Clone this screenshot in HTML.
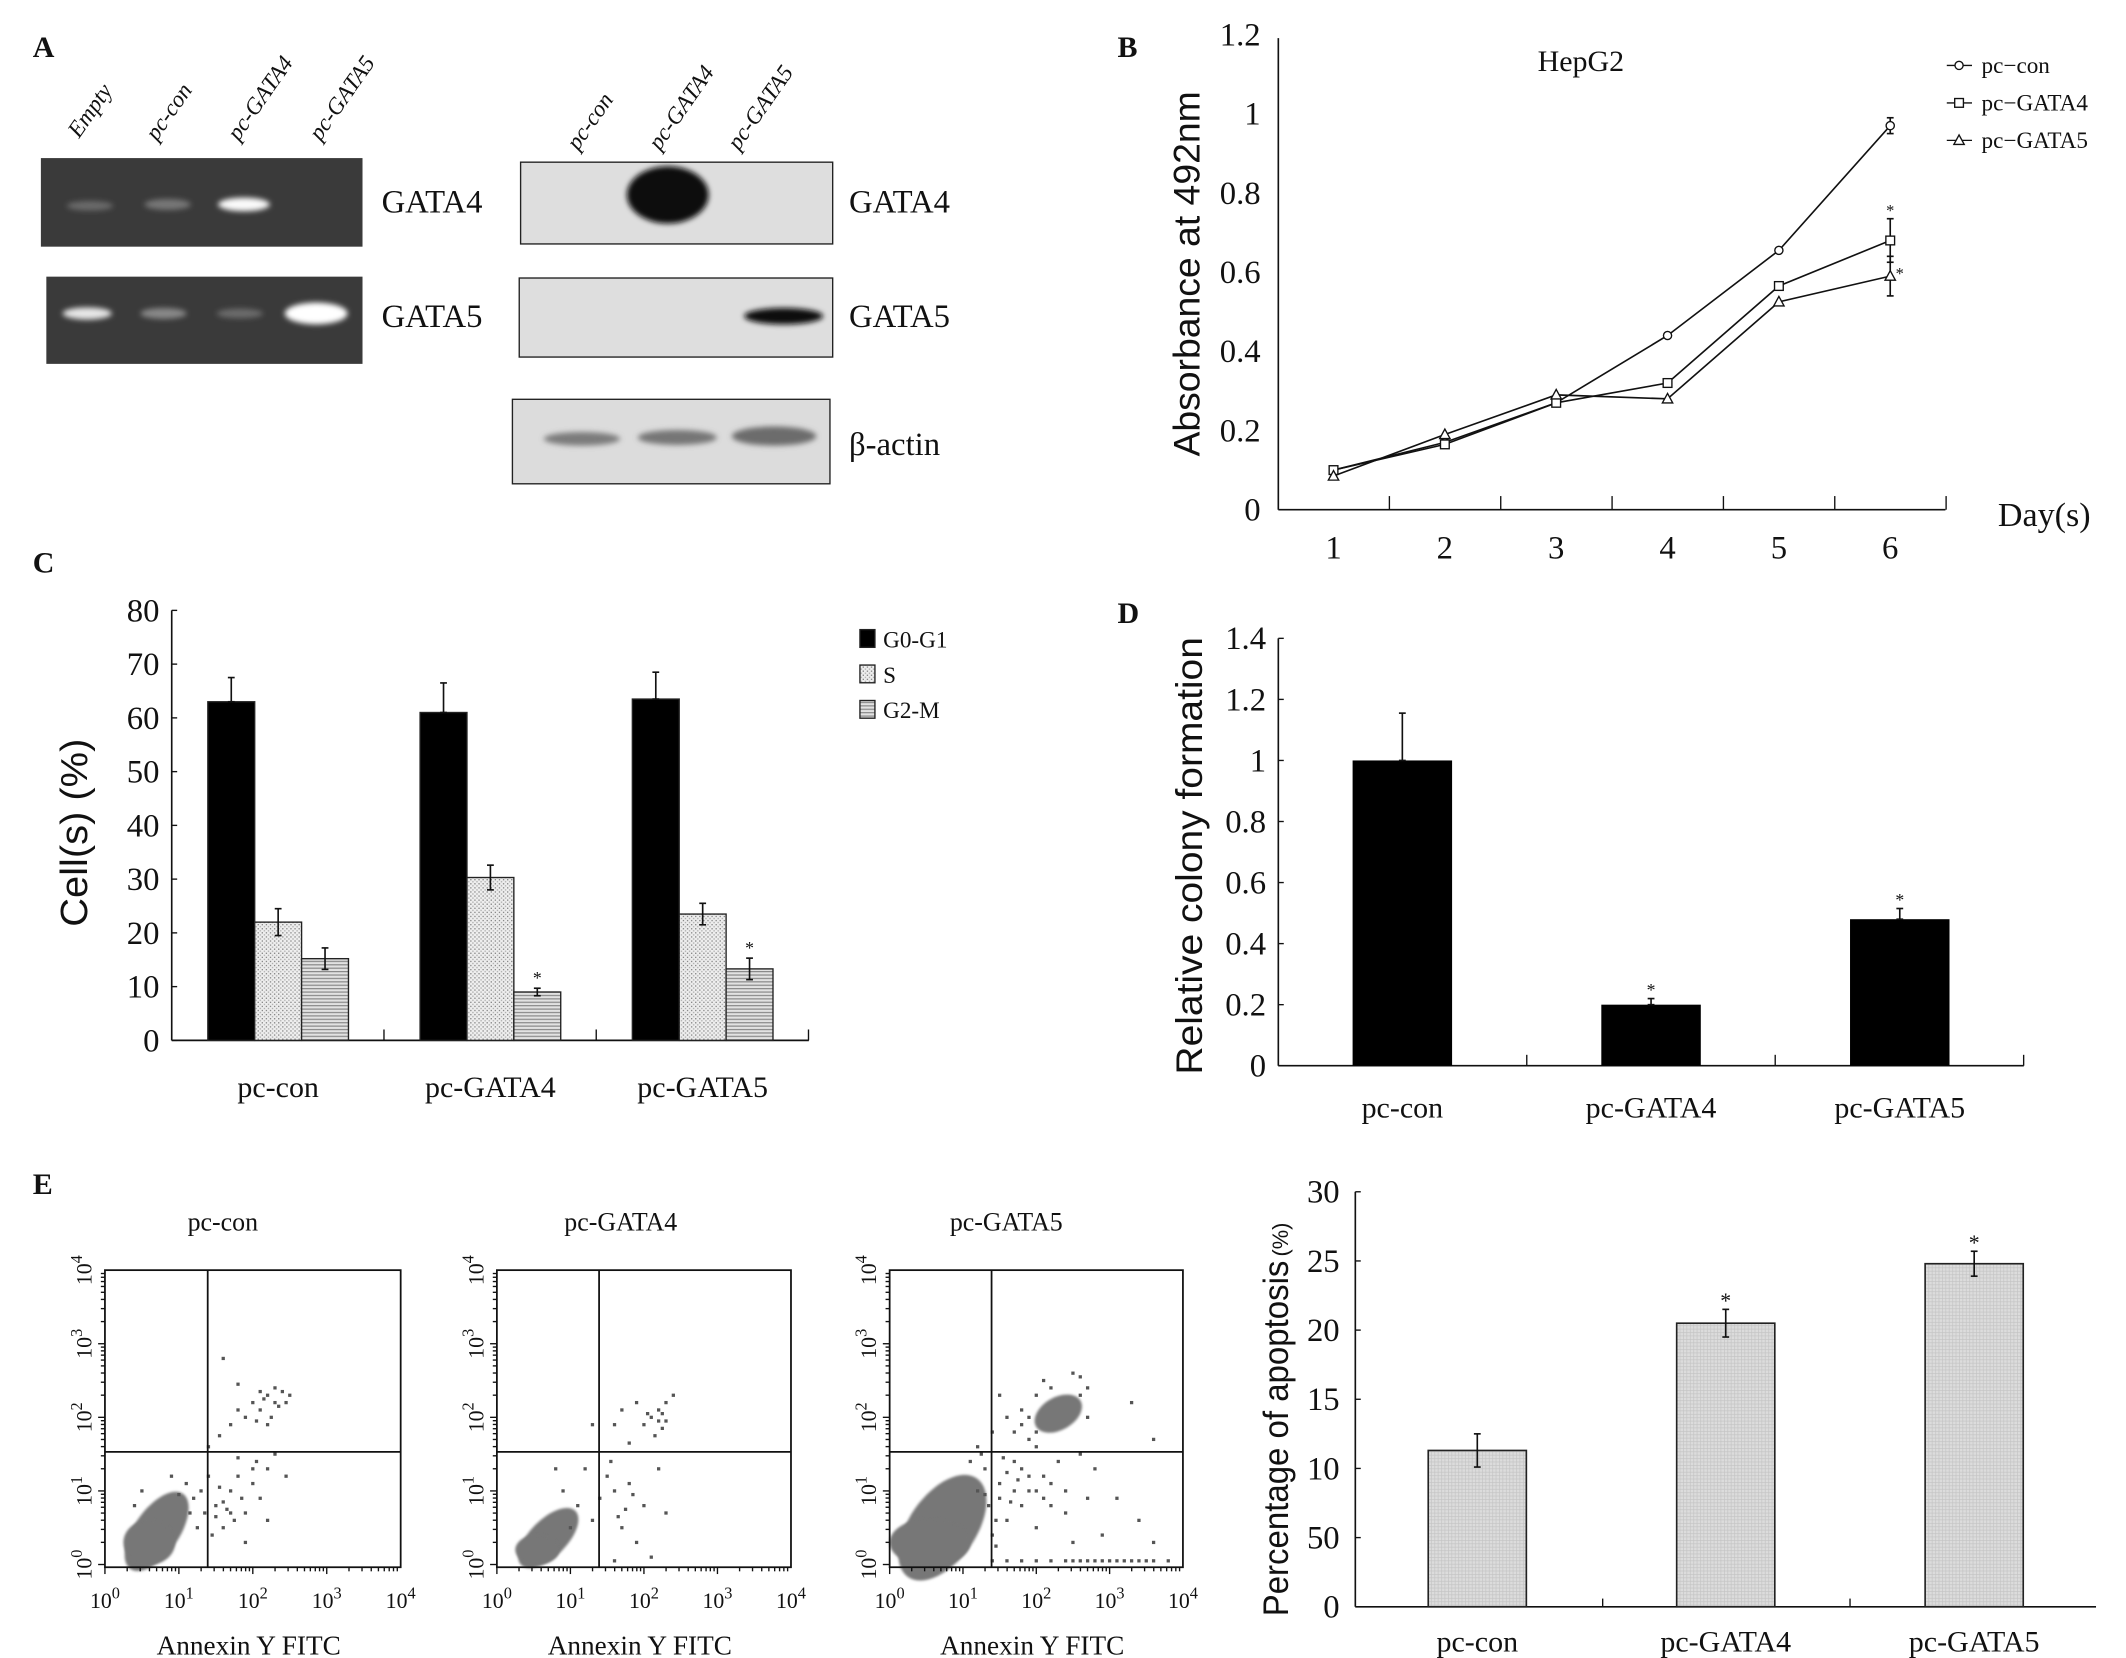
<!DOCTYPE html>
<html><head><meta charset="utf-8"><title>GATA4/GATA5 figure</title>
<style>
html,body{margin:0;padding:0;background:#fff;}
svg{display:block;}
text{font-family:"Liberation Serif",serif;fill:#111;}
.sans{font-family:"Liberation Sans",sans-serif;}
</style></head>
<body>
<svg id="fig" width="2126" height="1658" viewBox="0 0 1560 1216.6" preserveAspectRatio="none" xmlns="http://www.w3.org/2000/svg">
<defs>
<filter id="blur2" x="-50%" y="-50%" width="200%" height="200%"><feGaussianBlur stdDeviation="2"/></filter>
<filter id="blur1" x="-50%" y="-50%" width="200%" height="200%"><feGaussianBlur stdDeviation="1"/></filter>
<pattern id="patS" width="3" height="3" patternUnits="userSpaceOnUse"><rect width="3" height="3" fill="#eeeeee"/><rect width="1" height="1" fill="#8a8a8a"/><rect x="1.5" y="1.5" width="1" height="1" fill="#aaa"/></pattern>
<pattern id="patG2" width="4" height="2.5" patternUnits="userSpaceOnUse"><rect width="4" height="2.5" fill="#e2e2e2"/><rect width="4" height="0.9" fill="#8a8a8a"/></pattern>
<pattern id="patE" width="2.5" height="2.5" patternUnits="userSpaceOnUse"><rect width="2.5" height="2.5" fill="#dcdcdc"/><rect width="2.5" height="0.5" fill="#c4c4c4"/><rect width="0.5" height="2.5" fill="#c4c4c4"/></pattern>
</defs>

<!-- Panel A -->
<g>
<text x="24" y="42" font-size="22" font-weight="bold">A</text>
<g font-size="17" font-style="italic">
<text transform="translate(58,102) rotate(-55)">Empty</text>
<text transform="translate(115,104) rotate(-55)">pc-con</text>
<text transform="translate(175,104) rotate(-55)">pc-GATA4</text>
<text transform="translate(235,104) rotate(-55)">pc-GATA5</text>
<text transform="translate(424,111) rotate(-55)">pc-con</text>
<text transform="translate(484,111) rotate(-55)">pc-GATA4</text>
<text transform="translate(542,111) rotate(-55)">pc-GATA5</text>
</g>
<g>
<rect x="30" y="116" width="236" height="65" fill="#3a3a3a"/>
<ellipse cx="66" cy="151" rx="17" ry="3.5" fill="#6a6a6a" filter="url(#blur2)"/>
<ellipse cx="123" cy="150" rx="17" ry="4" fill="#777" filter="url(#blur2)"/>
<ellipse cx="179" cy="150" rx="19" ry="5" fill="#fafafa" filter="url(#blur2)"/>
</g>
<g>
<rect x="34" y="203" width="232" height="64" fill="#3a3a3a"/>
<ellipse cx="64" cy="230" rx="18" ry="4.5" fill="#e6e6e6" filter="url(#blur2)"/>
<ellipse cx="120" cy="230" rx="17" ry="4" fill="#888" filter="url(#blur2)"/>
<ellipse cx="176" cy="230" rx="17" ry="3.5" fill="#6c6c6c" filter="url(#blur2)"/>
<ellipse cx="232" cy="230" rx="23" ry="8" fill="#ffffff" filter="url(#blur2)"/>
</g>
<text x="280" y="156" font-size="24">GATA4</text>
<text x="280" y="240" font-size="24">GATA5</text>
<g>
<rect x="382" y="119" width="229" height="60" fill="#dedede" stroke="#222" stroke-width="1"/>
<ellipse cx="490" cy="143" rx="30" ry="21" fill="#0b0b0b" filter="url(#blur2)"/>
</g>
<g>
<rect x="381" y="204" width="230" height="58" fill="#dedede" stroke="#222" stroke-width="1"/>
<ellipse cx="575" cy="232" rx="29" ry="6" fill="#111" filter="url(#blur2)"/>
</g>
<g>
<rect x="376" y="293" width="233" height="62" fill="#dcdcdc" stroke="#222" stroke-width="1"/>
<ellipse cx="427" cy="322" rx="28" ry="5" fill="#7c7c7c" filter="url(#blur2)"/>
<ellipse cx="497" cy="321" rx="29" ry="5.5" fill="#767676" filter="url(#blur2)"/>
<ellipse cx="568" cy="320" rx="31" ry="7" fill="#6c6c6c" filter="url(#blur2)"/>
</g>
<text x="623" y="156" font-size="24">GATA4</text>
<text x="623" y="240" font-size="24">GATA5</text>
<text x="623" y="334" font-size="24">β-actin</text>
</g>

<g id="panelB"></g>
<g id="panelC"></g>
<g id="panelD"></g>
<g id="panelE"></g>
</svg>

<script>
// ---------- DATA ----------
// Panel B
const bDays = [1, 2, 3, 4, 5, 6];
const bCon = [0.10, 0.17, 0.27, 0.44, 0.655, 0.97];
const bGata4 = [0.10, 0.165, 0.27, 0.32, 0.565, 0.68];
const bGata5 = [0.085, 0.19, 0.29, 0.28, 0.525, 0.59];
const bConErr = [0, 0, 0, 0, 0, 0.02];
const bGata4Err = [0, 0, 0, 0, 0, 0.055];
const bGata5Err = [0, 0, 0, 0, 0, 0.05];
const bYTicks = [0, 0.2, 0.4, 0.6, 0.8, 1, 1.2];
const bYTickLabels = ["0", "0.2", "0.4", "0.6", "0.8", "1", "1.2"];
// Panel C
const cCategories = ["pc-con", "pc-GATA4", "pc-GATA5"];
const cG0G1 = [63, 61, 63.5];
const cG0G1Err = [4.5, 5.5, 5];
const cS = [22, 30.3, 23.5];
const cSErr = [2.5, 2.3, 2];
const cG2M = [15.2, 9, 13.3];
const cG2MErr = [2, 0.7, 2];
const cG2MSig = [false, true, true];
const cYTicks = [0, 10, 20, 30, 40, 50, 60, 70, 80];
// Panel D
const dCategories = ["pc-con", "pc-GATA4", "pc-GATA5"];
const dValues = [1.0, 0.2, 0.48];
const dErr = [0.155, 0.02, 0.035];
const dSig = [false, true, true];
const dYTicks = [0, 0.2, 0.4, 0.6, 0.8, 1, 1.2, 1.4];
const dYTickLabels = ["0", "0.2", "0.4", "0.6", "0.8", "1", "1.2", "1.4"];
// Panel E bar chart
const eCategories = ["pc-con", "pc-GATA4", "pc-GATA5"];
const eValues = [11.3, 20.5, 24.8];
const eErr = [1.2, 1.0, 0.9];
const eSig = [false, true, true];
const eYTicks = [0, 5, 10, 15, 20, 25, 30];
const eYTickLabels = ["0", "50", "10", "15", "20", "25", "30"];
// Panel E flow cytometry (log10 units): dense regions [cx, cy, rx, ry, angle]
const fcTitles = ["pc-con", "pc-GATA4", "pc-GATA5"];
const fcBlobs = [
  [[0.7, 0.45, 0.62, 0.3, -55], [0.6, 0.3, 0.35, 0.3, 0]],
  [[0.7, 0.36, 0.52, 0.25, -45], [0.55, 0.2, 0.3, 0.2, 0]],
  [[0.72, 0.5, 0.82, 0.45, -55], [0.55, 0.3, 0.55, 0.32, 0], [2.3, 2.05, 0.35, 0.22, -30]]
];
const fcPoints = [
  [[1.4,1.6],[1.55,1.75],[1.7,1.9],[1.8,2.1],[1.9,2.0],[2.0,2.2],[2.1,2.1],[2.2,2.3],[2.3,2.2],[2.4,2.35],[2.5,2.3],[2.05,1.95],[2.35,2.15],[1.6,2.8],[1.8,2.45],[2.25,2.0],[2.15,2.25],[2.3,2.4],[2.2,1.9],[2.45,2.2],[2.1,2.35],
   [1.5,0.8],[1.7,1.0],[1.9,0.7],[2.0,1.1],[2.2,1.3],[1.6,0.5],[1.8,1.2],[2.1,0.9],[2.3,1.5],[1.4,1.2],[2.45,1.2],[1.9,0.3],[2.2,0.6],[1.45,0.4],[1.65,0.75],[1.75,0.6],[1.55,1.05],[2.05,1.4],[1.85,0.9],[1.3,1.0],[1.2,0.9],[1.1,1.1],[0.5,1.0],[0.9,1.2],[1.5,0.65],[1.6,0.85],[1.7,0.7],[1.35,0.7],[1.8,1.45],[2.0,1.3],[1.25,0.5],[1.15,0.7],[0.4,0.8],[1.0,0.95]],
  [[1.3,1.9],[1.6,1.9],[1.7,2.1],[1.9,2.2],[2.0,1.9],[2.1,2.0],[2.2,2.1],[2.3,2.2],[2.25,1.85],[2.15,1.75],[2.4,2.3],[1.8,1.65],[2.05,2.05],[2.3,1.95],[2.2,1.95],[2.25,2.05],
   [1.5,1.2],[1.6,1.0],[1.8,1.1],[2.0,0.8],[2.2,1.3],[1.7,0.5],[1.9,0.3],[2.3,0.7],[1.4,0.9],[1.3,0.6],[1.2,1.3],[1.1,0.8],[0.9,1.0],[1.0,0.5],[0.8,1.3],[2.1,0.1],[1.6,0.05],[1.75,0.75],[1.65,0.65],[1.85,0.95],[1.55,1.4]],
  [[1.2,1.6],[1.4,1.8],[1.6,2.0],[1.8,2.1],[2.0,2.3],[2.2,2.4],[2.5,2.6],[2.6,2.55],[1.7,1.8],[1.9,1.7],[2.7,2.0],[3.3,2.2],[2.1,2.5],[3.6,1.7],[1.5,2.3],[1.9,2.0],[2.6,2.3],[2.7,2.4],[1.8,1.9],[2.0,1.8],
   [1.3,1.3],[1.5,1.1],[1.7,1.0],[1.9,1.2],[2.1,0.9],[2.3,1.4],[1.6,0.6],[1.8,0.8],[2.0,0.5],[2.2,1.1],[2.4,0.7],[2.6,1.5],[2.8,1.3],[1.4,0.4],[1.7,1.4],[2.0,1.6],[2.5,0.3],[3.1,0.9],[3.4,0.6],[3.6,0.3],[2.9,0.4],[1.35,0.8],[1.55,1.45],[1.45,0.25],
   [1.5,0.9],[1.6,1.25],[1.8,1.3],[1.9,1.0],[2.0,1.0],[2.1,1.2],[2.2,0.8],[1.45,0.6],[1.65,0.85],[1.75,1.15],[1.25,1.5],[1.1,1.4],[1.2,1.0],[1.3,0.95],[2.4,1.0],[2.7,0.9],
   [1.4,0.05],[1.6,0.05],[1.8,0.05],[2.0,0.05],[2.2,0.05],[2.4,0.05],[2.6,0.05],[2.8,0.05],[3.0,0.05],[3.2,0.05],[3.4,0.05],[3.6,0.05],[3.8,0.05],[2.5,0.05],[2.7,0.05],[2.9,0.05],[3.1,0.05],[3.3,0.05],[3.5,0.05]]
];
const fcGateX = [1.39, 1.39, 1.39];
const fcGateY = [1.53, 1.53, 1.53];

// ---------- helpers ----------
const NS = "http://www.w3.org/2000/svg";
function mk(parent, tag, attrs, name, inter) {
  const el = document.createElementNS(NS, tag);
  for (const k in attrs) el.setAttribute(k, attrs[k]);
  
  
  parent.appendChild(el);
  return el;
}
function txt(parent, x, y, s, size, anchor, name, extra) {
  const a = Object.assign({x: x, y: y, 'font-size': size, 'text-anchor': anchor || 'start'}, extra || {});
  const t = mk(parent, 'text', a, name, false);
  t.textContent = s;
  return t;
}
function errBar(g, x, y1, y2, name) {
  mk(g, 'line', {x1: x, y1: y1, x2: x, y2: y2, stroke: '#111', 'stroke-width': 1.2}, name, false);
  mk(g, 'line', {x1: x - 2.5, y1: y1, x2: x + 2.5, y2: y1, stroke: '#111', 'stroke-width': 1.2}, name + '-cap-top', false);
  mk(g, 'line', {x1: x - 2.5, y1: y2, x2: x + 2.5, y2: y2, stroke: '#111', 'stroke-width': 1.2}, name + '-cap-bottom', false);
}

// ---------- Panel B ----------
(function () {
  const g = document.getElementById('panelB');
  const x0 = 938, yBase = 374, yPer = 290.5;
  const bx = d => 978.5 + (d - 1) * 81.7;
  const by = v => yBase - v * yPer;
  txt(g, 820, 42, 'B', 22, 'start', 'panel-b-label', {'font-weight': 'bold'});
  mk(g, 'line', {x1: x0, y1: 28, x2: x0, y2: yBase, stroke: '#111', 'stroke-width': 1.2}, 'b-y-axis', false);
  mk(g, 'line', {x1: x0, y1: yBase, x2: 1427.5, y2: yBase, stroke: '#111', 'stroke-width': 1.2}, 'b-x-axis', false);
  bYTicks.forEach((v, i) => {
    txt(g, 925, by(v) + 8, bYTickLabels[i], 24, 'end', 'b-y-tick-label');
  });
  bDays.forEach((d, i) => {
    mk(g, 'line', {x1: bx(d) + 41, y1: yBase, x2: bx(d) + 41, y2: yBase - 10, stroke: '#111', 'stroke-width': 1}, 'b-x-tick', false);
    txt(g, bx(d), 410, String(d), 24, 'middle', 'b-x-tick-label');
  });
  txt(g, 1500, 386, 'Day(s)', 25, 'middle', 'b-x-axis-title');
  txt(g, 1160, 52, 'HepG2', 22, 'middle', 'b-chart-title');
  txt(g, 0, 0, 'Absorbance at 492nm', 27, 'middle', 'b-y-axis-title', {transform: 'translate(880,201) rotate(-90)', 'textLength': 268, 'lengthAdjust': 'spacingAndGlyphs', 'class': 'sans'});
  const series = [[bCon, bConErr, 'circle', 'pc-con'], [bGata4, bGata4Err, 'square', 'pc-GATA4'], [bGata5, bGata5Err, 'triangle', 'pc-GATA5']];
  function marker(gg, type, x, y, name) {
    if (type === 'circle') mk(gg, 'circle', {cx: x, cy: y, r: 3, fill: '#fff', stroke: '#111', 'stroke-width': 1}, name, false);
    else if (type === 'square') mk(gg, 'rect', {x: x - 3.2, y: y - 3.2, width: 6.4, height: 6.4, fill: '#fff', stroke: '#111', 'stroke-width': 1}, name, false);
    else mk(gg, 'polygon', {points: `${x},${y - 4} ${x - 3.8},${y + 3} ${x + 3.8},${y + 3}`, fill: '#fff', stroke: '#111', 'stroke-width': 1}, name, false);
  }
  series.forEach((s, si) => {
    const sg = mk(g, 'g', {}, 'b-series-' + s[3], false);
    const pts = bDays.map((d, i) => bx(d) + ',' + by(s[0][i])).join(' ');
    mk(sg, 'polyline', {points: pts, fill: 'none', stroke: '#111', 'stroke-width': 1.2}, 'b-line-' + s[3], false);
    bDays.forEach((d, i) => {
      if (s[1][i] > 0) errBar(sg, bx(d), by(s[0][i] + s[1][i]), by(s[0][i] - s[1][i]), 'b-error-bar-' + s[3]);
      marker(sg, s[2], bx(d), by(s[0][i]), 'b-point-' + s[3]);
    });
    const ly = 48 + si * 27.5;
    mk(g, 'line', {x1: 1428.5, y1: ly, x2: 1447, y2: ly, stroke: '#111', 'stroke-width': 1}, 'b-legend-line-' + s[3], false);
    marker(g, s[2], 1437.5, ly, 'b-legend-marker-' + s[3]);
    txt(g, 1454, ly + 5.5, s[3].replace('-', '\u2212'), 17, 'start', 'b-legend-label-' + s[3]);
  });
  txt(g, bx(6), by(bGata4[5] + bGata4Err[5]) - 2, '*', 12, 'middle', 'b-significance-gata4');
  txt(g, bx(6) + 7, by(bGata5[5]) + 2, '*', 12, 'middle', 'b-significance-gata5');
})();

// ---------- Panel C ----------
(function () {
  const g = document.getElementById('panelC');
  const yBase = 763.4, per = 3.944, x0 = 126;
  const cy = v => yBase - v * per;
  const bw = 34.4, gx = i => 152.5 + i * 155.75;
  txt(g, 24, 420, 'C', 22, 'start', 'panel-c-label', {'font-weight': 'bold'});
  mk(g, 'line', {x1: x0, y1: cy(80), x2: x0, y2: yBase, stroke: '#111', 'stroke-width': 1.2}, 'c-y-axis', false);
  mk(g, 'line', {x1: x0, y1: yBase, x2: 593.5, y2: yBase, stroke: '#111', 'stroke-width': 1.2}, 'c-x-axis', false);
  cYTicks.forEach(v => {
    mk(g, 'line', {x1: x0, y1: cy(v), x2: x0 + 4, y2: cy(v), stroke: '#111', 'stroke-width': 1}, 'c-y-tick', false);
    txt(g, 117, cy(v) + 8, String(v), 24, 'end', 'c-y-tick-label');
  });
  [1, 2, 3].forEach(i => mk(g, 'line', {x1: x0 + i * 155.75, y1: yBase, x2: x0 + i * 155.75, y2: yBase - 8, stroke: '#111', 'stroke-width': 1}, 'c-x-tick', false));
  const series = [[cG0G1, cG0G1Err, '#000', 'g0-g1'], [cS, cSErr, 'url(#patS)', 's'], [cG2M, cG2MErr, 'url(#patG2)', 'g2-m']];
  cCategories.forEach((c, i) => {
    series.forEach((s, j) => {
      const x = gx(i) + j * bw, v = s[0][i];
      mk(g, 'rect', {x: x, y: cy(v), width: bw, height: yBase - cy(v), fill: s[2], stroke: '#222', 'stroke-width': 1}, 'c-bar-' + s[3] + '-' + c, false);
      errBar(g, x + bw / 2, cy(v + s[1][i]), cy(v - (j === 0 ? 0 : s[1][i])), 'c-error-bar-' + s[3] + '-' + c);
    });
    if (cG2MSig[i]) txt(g, gx(i) + 2.5 * bw, cy(cG2M[i] + cG2MErr[i]) - 3, '*', 13, 'middle', 'c-significance-' + c);
    txt(g, gx(i) + 1.5 * bw, 805, c, 22, 'middle', 'c-x-tick-label');
  });
  const leg = [['#000', 'G0-G1'], ['url(#patS)', 'S'], ['url(#patG2)', 'G2-M']];
  leg.forEach((l, k) => {
    const ly = 469 + k * 26;
    mk(g, 'rect', {x: 631, y: ly - 7, width: 11, height: 13, fill: l[0], stroke: '#222', 'stroke-width': 1}, 'c-legend-swatch-' + l[1], false);
    txt(g, 648, ly + 6, l[1], 17, 'start', 'c-legend-label-' + l[1]);
  });
  txt(g, 0, 0, 'Cell(s) (%)', 28, 'middle', 'c-y-axis-title', {transform: 'translate(64,611) rotate(-90)', textLength: 138, lengthAdjust: 'spacingAndGlyphs', 'class': 'sans'});
})();

// ---------- Panel D ----------
(function () {
  const g = document.getElementById('panelD');
  const yBase = 782, per = 224, x0 = 938;
  const dy = v => yBase - v * per;
  txt(g, 820, 457, 'D', 22, 'start', 'panel-d-label', {'font-weight': 'bold'});
  mk(g, 'line', {x1: x0, y1: dy(1.4), x2: x0, y2: yBase, stroke: '#111', 'stroke-width': 1.2}, 'd-y-axis', false);
  mk(g, 'line', {x1: x0, y1: yBase, x2: 1485, y2: yBase, stroke: '#111', 'stroke-width': 1.2}, 'd-x-axis', false);
  dYTicks.forEach((v, i) => {
    mk(g, 'line', {x1: x0, y1: dy(v), x2: x0 + 4, y2: dy(v), stroke: '#111', 'stroke-width': 1}, 'd-y-tick', false);
    txt(g, 929, dy(v) + 8, dYTickLabels[i], 24, 'end', 'd-y-tick-label');
  });
  [1, 2, 3].forEach(i => mk(g, 'line', {x1: x0 + i * 182.3, y1: yBase, x2: x0 + i * 182.3, y2: yBase - 8, stroke: '#111', 'stroke-width': 1}, 'd-x-tick', false));
  dCategories.forEach((c, i) => {
    const x = 992.5 + i * 182.5, v = dValues[i];
    mk(g, 'rect', {x: x, y: dy(v), width: 73, height: yBase - dy(v), fill: '#000'}, 'd-bar-' + c, false);
    errBar(g, x + 36.5, dy(v + dErr[i]), dy(v), 'd-error-bar-' + c);
    if (dSig[i]) txt(g, x + 36.5, dy(v + dErr[i]) - 2, '*', 13, 'middle', 'd-significance-' + c);
    txt(g, x + 36.5, 820, c, 22, 'middle', 'd-x-tick-label');
  });
  txt(g, 0, 0, 'Relative colony formation', 27, 'middle', 'd-y-axis-title', {transform: 'translate(882,628) rotate(-90)', textLength: 321, lengthAdjust: 'spacingAndGlyphs', 'class': 'sans'});
})();

// ---------- Panel E ----------
(function () {
  const g = document.getElementById('panelE');
  txt(g, 24, 876, 'E', 22, 'start', 'panel-e-label', {'font-weight': 'bold'});
  const boxes = [[77, 294], [364.6, 580.4], [652.8, 868]];
  const top = 932, bot = 1150;
  fcTitles.forEach((title, p) => {
    const L = boxes[p][0], R = boxes[p][1];
    const fx = lx => L + lx * (R - L) / 4;
    const fy = ly => bot - 2 - ly * (bot - top - 2) / 4;
    const pg = mk(g, 'g', {}, 'flow-plot-' + title, false);
    fcBlobs[p].forEach(b => {
      mk(pg, 'ellipse', {cx: fx(b[0]), cy: fy(b[1]), rx: b[2] * (R - L) / 4, ry: b[3] * (bot - top) / 4, transform: `rotate(${b[4]} ${fx(b[0])} ${fy(b[1])})`, fill: '#777', filter: 'url(#blur1)'}, 'flow-dense-population', false);
    });
    fcPoints[p].forEach(pt => {
      mk(pg, 'rect', {x: fx(pt[0]) - 1.2, y: fy(pt[1]) - 1.2, width: 2.4, height: 2.4, fill: '#555'}, 'flow-event', false);
    });
    mk(pg, 'rect', {x: L, y: top, width: R - L, height: bot - top, fill: 'none', stroke: '#111', 'stroke-width': 1.3}, 'flow-plot-frame', false);
    mk(pg, 'line', {x1: fx(fcGateX[p]), y1: top, x2: fx(fcGateX[p]), y2: bot, stroke: '#111', 'stroke-width': 1.3}, 'flow-gate-vertical', false);
    mk(pg, 'line', {x1: L, y1: fy(fcGateY[p]), x2: R, y2: fy(fcGateY[p]), stroke: '#111', 'stroke-width': 1.3}, 'flow-gate-horizontal', false);
    for (let d = 0; d < 4; d++) {
      for (let k = 1; k <= 9; k++) {
        const lv = d + Math.log10(k);
        const len = k === 1 ? 5 : 3;
        mk(pg, 'line', {x1: fx(lv), y1: bot, x2: fx(lv), y2: bot + len, stroke: '#111', 'stroke-width': 1}, 'flow-x-tick', false);
        mk(pg, 'line', {x1: L, y1: fy(lv), x2: L - len, y2: fy(lv), stroke: '#111', 'stroke-width': 1}, 'flow-y-tick', false);
      }
    }
    for (let d = 0; d <= 4; d++) {
      const t = mk(pg, 'text', {x: fx(d), y: 1180, 'font-size': 16, 'text-anchor': 'middle'}, 'flow-x-tick-label', false);
      t.innerHTML = '10<tspan dy="-7" font-size="12">' + d + '</tspan>';
      const t2 = mk(pg, 'text', {transform: `translate(${L - 10},${fy(d)}) rotate(-90)`, 'font-size': 16, 'text-anchor': 'middle'}, 'flow-y-tick-label', false);
      t2.innerHTML = '10<tspan dy="-7" font-size="12">' + d + '</tspan>';
    }
    txt(pg, (L + R) / 2 - 30 + (p === 0 ? 8 : p === 1 ? 13 : 8), 903, title, 19, 'middle', 'flow-plot-title');
    txt(pg, (L + R) / 2 - 3, 1214, 'Annexin Y FITC', 20, 'middle', 'flow-x-axis-title');
  });
  const yBase = 1179, per = 10.15, x0 = 994.5;
  const ey = v => yBase - v * per;
  mk(g, 'line', {x1: x0, y1: ey(30), x2: x0, y2: yBase, stroke: '#111', 'stroke-width': 1.2}, 'e-y-axis', false);
  mk(g, 'line', {x1: x0, y1: yBase, x2: 1538, y2: yBase, stroke: '#111', 'stroke-width': 1.2}, 'e-x-axis', false);
  eYTicks.forEach((v, i) => {
    mk(g, 'line', {x1: x0, y1: ey(v), x2: x0 + 4, y2: ey(v), stroke: '#111', 'stroke-width': 1}, 'e-y-tick', false);
    txt(g, 983, ey(v) + 8, eYTickLabels[i], 24, 'end', 'e-y-tick-label');
  });
  [1, 2].forEach(i => mk(g, 'line', {x1: x0 + i * 181.5, y1: yBase, x2: x0 + i * 181.5, y2: yBase - 6, stroke: '#111', 'stroke-width': 1}, 'e-x-tick', false));
  eCategories.forEach((c, i) => {
    const x = 1048 + i * 182.3, v = eValues[i];
    mk(g, 'rect', {x: x, y: ey(v), width: 72, height: yBase - ey(v), fill: 'url(#patE)', stroke: '#222', 'stroke-width': 1.2}, 'e-bar-' + c, false);
    errBar(g, x + 36, ey(v + eErr[i]), ey(v - eErr[i]), 'e-error-bar-' + c);
    if (eSig[i]) txt(g, x + 36, ey(v + eErr[i]) - 1, '*', 16, 'middle', 'e-significance-' + c);
    txt(g, x + 36, 1212, c, 22, 'middle', 'e-x-tick-label');
  });
  const yl = mk(g, 'text', {transform: 'translate(945,1186) rotate(-90)', 'font-size': 26, 'class': 'sans'}, 'e-y-axis-title', false);
  yl.innerHTML = '<tspan textLength="261" lengthAdjust="spacingAndGlyphs">Percentage of apoptosis</tspan><tspan font-size="16" dx="3">(%)</tspan>';
})();
</script>
</body></html>
